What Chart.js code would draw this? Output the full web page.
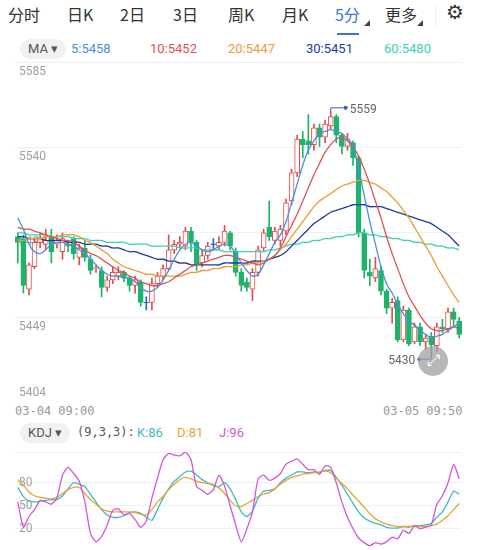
<!DOCTYPE html>
<html><head><meta charset="utf-8">
<script src="https://cdn.jsdelivr.net/npm/chart.js@4"></script>
<style>
body{margin:0;width:478px;height:550px;background:#fff;font-family:"Noto Sans CJK SC","Noto Sans",sans-serif;position:relative;overflow:hidden}
.a{position:absolute;white-space:nowrap}
.tab{top:2px;font-size:16px;color:#333}
.pill{background:#f1f1f1;border-radius:10px;color:#555;font-size:13px;font-family:Roboto,sans-serif;height:20px;line-height:20px;padding:0 8px}
.lg{font-size:13px;font-family:Roboto,sans-serif}
.tri{width:0;height:0;border-left:6px solid transparent;border-bottom:6px solid #444}
</style></head><body>
<div class="a tab" style="left:8px">分时</div>
<div class="a tab" style="left:67px">日K</div>
<div class="a tab" style="left:120px">2日</div>
<div class="a tab" style="left:173px">3日</div>
<div class="a tab" style="left:228px">周K</div>
<div class="a tab" style="left:282px">月K</div>
<div class="a tab" style="left:335px;color:#3a72d8">5分</div>
<div class="a tri" style="left:364px;top:20px"></div>
<div class="a tab" style="left:385px">更多</div>
<div class="a tri" style="left:417px;top:20px"></div>
<div class="a" style="left:435px;top:6px;width:1px;height:20px;background:#eee"></div>
<div class="a" style="left:446px;top:0px;font-size:20px;color:#333;font-family:'DejaVu Sans'">⚙</div>
<div class="a" style="left:337px;top:33px;width:22px;height:2px;background:#3a72d8"></div>
<div class="a pill" style="left:20px;top:39px">MA ▾</div>
<div class="a lg" style="left:71px;top:41px;color:#4a8fe0">5:5458</div>
<div class="a lg" style="left:150px;top:41px;color:#e05252">10:5452</div>
<div class="a lg" style="left:228px;top:41px;color:#ec9c34">20:5447</div>
<div class="a lg" style="left:306px;top:41px;color:#1b3b9e">30:5451</div>
<div class="a lg" style="left:384px;top:41px;color:#3cd2b4">60:5480</div>
<div class="a" style="left:15px;top:404px;font-size:12px;color:#999;font-family:'DejaVu Sans Mono',monospace">03-04 09:00</div>
<div class="a" style="left:383px;top:404px;font-size:12px;color:#999;font-family:'DejaVu Sans Mono',monospace">03-05 09:50</div>
<div class="a pill" style="left:20px;top:423px">KDJ ▾</div>
<div class="a lg" style="left:77px;top:425px;color:#555;font-family:'DejaVu Sans Mono',monospace;font-size:12px">(9,3,3):</div>
<div class="a lg" style="left:137px;top:425px;color:#3fb9c9">K:86</div>
<div class="a lg" style="left:177px;top:425px;color:#e9a430">D:81</div>
<div class="a lg" style="left:219px;top:425px;color:#d257d8">J:96</div>
<div class="a" style="left:15px;top:62px;width:447px;height:340px"><canvas id="p"></canvas></div>
<div class="a" style="left:15px;top:452px;width:447px;height:96px"><canvas id="k"></canvas></div>
<div class="a" style="left:418px;top:346px;width:30px;height:30px;border-radius:15px;background:rgba(160,160,160,0.75);color:#fff;font-size:16px;text-align:center;line-height:30px;font-family:'DejaVu Sans'">⤢</div>
<script>
const opens=[5492,5491,5464,5476,5489,5488,5492,5488,5484,5488,5491,5481,5486,5480,5475,5474,5465,5469,5471,5473,5470,5466,5468,5457,5457,5467,5471,5475,5485,5488,5487,5495,5489,5478,5482,5488,5487,5489,5494,5484,5473,5468,5464,5473,5486,5497,5490,5490,5495,5511,5526,5544,5543,5541,5550,5545,5551,5556,5546,5540,5542,5534,5494,5473,5470,5474,5463,5454,5458,5437,5453,5436,5444,5436,5439,5434,5444,5443,5452,5447];
const closes=[5489,5466,5477,5489,5491,5490,5484,5490,5491,5487,5483,5486,5481,5474,5475.5,5465,5469,5473,5473,5470,5466,5469,5457,5457,5467,5471,5475,5485,5488,5489,5495,5489,5477,5482,5487,5488,5489,5495,5487,5473,5466,5465,5473,5485,5494,5492,5495,5496,5510,5526,5544,5541,5541,5550,5545,5552,5556,5546,5540,5544,5534,5494,5474,5471,5475,5463,5454,5457,5437,5453,5435,5444,5436,5438,5434.5,5444,5443,5452,5448,5440];
const highs=[5494,5493,5478,5491,5494,5496,5496,5493,5494,5490,5492,5488,5490,5482,5477,5476,5471,5476,5476,5474,5471,5471,5469,5460,5470,5473,5477,5493,5490,5492,5497,5497,5490,5485,5489,5491,5492,5498,5495,5486,5475,5470,5475,5487,5496,5511,5497,5498,5512,5528,5546,5548,5557,5552,5552,5554,5559,5557,5547,5547,5543,5535,5496,5480,5481,5476,5464,5459,5460,5455,5454,5446,5446,5440,5441,5446,5448,5454,5454,5449];
const lows=[5478,5462,5461,5475,5486,5485,5478,5486,5480,5484,5480,5477,5479,5472,5473,5460,5463,5467,5469,5468,5463,5462,5455,5453,5453,5465,5469,5474,5483,5486,5485,5484,5474,5476,5480,5485,5485,5487,5485,5471,5463,5463,5458,5471,5484,5490,5488,5487,5493,5509,5524,5534,5536,5538,5540,5542,5549,5542,5536,5538,5530,5492,5470,5466,5468,5461,5451,5446,5436,5436,5434,5435,5434,5432,5430,5431,5441,5441,5444,5438];
const ma5=[5502,5496,5488,5484,5483,5485,5488,5489,5489,5488,5487,5485,5483,5480,5477,5474,5472,5471,5471,5470,5470,5468,5465,5463,5463,5465,5469,5474,5480,5485,5488,5489,5487,5485,5484,5485,5487,5488,5487,5483,5478,5474,5471,5472,5477,5483,5489,5493,5500,5510,5520,5530,5538,5543,5547,5548,5549,5548,5547,5544,5541,5528,5514,5500,5488,5476,5467,5462,5456,5451,5447,5445,5442,5440,5438,5439,5440,5442,5444,5446];
const ma10=[5497,5496,5496,5495,5494,5493,5492,5491,5490,5490,5489,5487,5485,5483,5482,5480,5478,5476,5474,5473,5471,5470,5468,5467,5466,5466,5467,5468,5470,5472,5474,5476,5477,5478,5479,5480,5481,5482,5482,5481,5480,5479,5478,5477,5478,5480,5482,5486,5492,5498,5504,5511,5518,5525,5531,5537,5541,5544,5545,5543,5540,5535,5528,5520,5511,5502,5492,5483,5475,5467,5460,5455,5450,5446,5443,5442,5442,5443,5444,5443];
const ma20=[5490,5490,5491,5491,5491,5492,5492,5492,5493,5493,5493,5492,5490,5489,5487,5485,5483,5480,5478,5476,5475,5474,5473,5472,5472,5471,5471,5471,5471,5471,5472,5473,5473,5474,5474,5475,5475,5476,5476,5476,5477,5477,5478,5478,5479,5480,5482,5485,5488,5492,5496,5500,5504,5508,5511,5513,5515,5517,5519,5520,5521,5522,5522,5521,5520,5518,5516,5513,5510,5506,5502,5497,5492,5487,5482,5476,5471,5466,5461,5457];
const ma30=[5492,5492,5491,5491,5491,5490,5490,5490,5490,5489,5489,5489,5488,5488,5488,5487,5487,5486,5486,5485,5484,5484,5483,5482,5481,5480,5480,5479,5479,5478,5478,5477,5477,5477,5477,5477,5477,5478,5478,5478,5478,5478,5479,5479,5479,5480,5481,5482,5484,5487,5490,5493,5496,5499,5501,5503,5505,5506,5507,5508,5509,5509,5509,5508,5508,5508,5507,5506,5505,5504,5503,5502,5501,5500,5499,5497,5495,5493,5490,5487];
const ma60=[5494,5494,5493,5493,5493,5493,5492,5492,5492,5492,5491,5491,5491,5490,5490,5490,5489,5489,5489,5489,5488,5488,5488,5488,5487,5487,5487,5487,5487,5486,5486,5486,5486,5485,5485,5485,5485,5484,5484,5484,5484,5484,5484,5484,5484,5485,5485,5486,5487,5488,5488,5489,5489,5490,5490,5491,5491,5492,5492,5493,5493,5494,5494,5493,5493,5492,5492,5491,5491,5490,5490,5489,5489,5488,5488,5487,5487,5486,5486,5485];
const kVals=[74,62,56,55,56,57,58,58,63,72,80,78,75,65,55,45,38,35,35,37,41,42,40,35,31,45,60,72,82,88,94,95,90,84,80,76,75,80,72,58,42,36,43,60,69,70,72,80,86,90,94,94,93,94,93,96,96,87,77,65,53,42,34,30,27,25,22,21,21,23,22,24,24,25,27,35,42,55,69,65];
const dVals=[84,77,68,63,61,60,59,61,66,71,74,74,66,58,52,46,43,42,42,42,42,41,39,38,45,55,62,71,78,84,87,85,82,80,79,78,73,66,57,50,49,53,57,62,65,67,72,78,83,87,89,91,92,93,94,95,93,86,79,72,64,56,48,40,33,29,26,24,23,23,23,23,23,23,24,26,31,37,45,53];
const jVals=[55,22,36,45,57,55,52,60,90,100,92,82,55,14,3,10,25,44,46,38,40,32,22,30,60,86,110,118,116,115,120,110,75,70,65,71,90,76,50,25,3,20,42,85,90,83,86,92,104,108,111,104,97,97,91,102,100,80,55,35,20,8,2,-2,2,0,3,9,7,18,14,24,20,22,25,52,63,80,104,85];
const priceTicks=[5585,5539.75,5494.5,5449.25,5404];
const priceTickLabels=["5585","5540","5494","5449","5404"];
const kdjTicks=[80,50,20];
const labels=opens.map((_,i)=>i);

const RED='#e44b4b',GREEN='#1db36b',BLUE='#2a62d0';
const col=i=>closes[i]>opens[i]?RED:(closes[i]<opens[i]?GREEN:BLUE);
const bodies=opens.map((o,i)=>o===closes[i]?[o-0.25,o+0.25]:[o,closes[i]]);
const wicks=lows.map((l,i)=>[l,highs[i]]);
const line=(d,c)=>({type:'line',data:d,borderColor:c,borderWidth:1.3,pointRadius:0,tension:0.3,order:0});

const labelPlugin={id:'lbl',beforeDatasetsDraw(ch){
  const c=ch.ctx,y=ch.scales.y;c.save();c.fillStyle='#a0a0a0';c.font='12px Roboto';
  priceTicks.forEach((t,i)=>{const py=y.getPixelForValue(t);const last=i===priceTicks.length-1;c.textBaseline=last?'bottom':'top';c.fillText(priceTickLabels[i],4,last?py-3:py+4);});
  c.restore();}};
const extPlugin={id:'ext',afterDatasetsDraw(ch){
  const c=ch.ctx,x=ch.scales.x,y=ch.scales.y;
  let hi=0,lo=0;highs.forEach((h,i)=>{if(h>highs[hi])hi=i;});lows.forEach((l,i)=>{if(l<lows[lo])lo=i;});
  c.save();c.strokeStyle='#2a62d0';c.fillStyle='#2a62d0';c.lineWidth=1;
  let hx=x.getPixelForValue(hi),hy=y.getPixelForValue(highs[hi]);
  c.beginPath();c.moveTo(hx,hy);c.lineTo(hx,hy-3);c.lineTo(hx+15,hy-3);c.stroke();
  c.beginPath();c.arc(hx+15,hy-3,2,0,7);c.fill();
  c.fillStyle='#666';c.font='12px Roboto';c.textBaseline='middle';c.fillText(String(highs[hi]),hx+19,hy-1);
  let lx=x.getPixelForValue(lo),ly=y.getPixelForValue(lows[lo]);
  c.fillStyle='#2a62d0';
  c.beginPath();c.moveTo(lx,ly);c.lineTo(lx,ly+6);c.lineTo(lx-12,ly+6);c.stroke();
  c.beginPath();c.arc(lx-12,ly+6,2,0,7);c.fill();
  c.fillStyle='#666';c.textAlign='right';c.fillText(String(lows[lo]),lx-16,ly+8);
  c.restore();}};

new Chart(document.getElementById('p'),{
  data:{labels,datasets:[
    line(ma5,'#4a8fe0'),line(ma10,'#e05252'),line(ma20,'#ec9c34'),line(ma30,'#1b3b9e'),line(ma60,'#3cd2b4'),
    {type:'bar',data:bodies,backgroundColor:opens.map((o,i)=>closes[i]>o?'#fff':col(i)),borderColor:opens.map((o,i)=>col(i)),borderWidth:1,borderSkipped:false,barThickness:5,grouped:false,order:1},
    {type:'bar',data:wicks,backgroundColor:opens.map((o,i)=>col(i)),barThickness:1,grouped:false,order:2}
  ]},
  options:{responsive:true,maintainAspectRatio:false,animation:false,events:[],layout:{padding:0},
    plugins:{legend:{display:false},tooltip:{enabled:false}},
    scales:{x:{display:false,offset:true},
      y:{min:5404,max:5585,afterFit:s=>{s.width=0},afterBuildTicks:s=>{s.ticks=priceTicks.map(v=>({value:v}))},
        ticks:{display:false},border:{display:false},grid:{color:'#efefef',drawTicks:false}}}},
  plugins:[labelPlugin,extPlugin]});

const kdjLabel={id:'kl',beforeDatasetsDraw(ch){const c=ch.ctx,y=ch.scales.y;c.save();c.fillStyle='#a0a0a0';c.font='12px Roboto';c.textBaseline='middle';
  kdjTicks.forEach(t=>c.fillText(String(t),4,y.getPixelForValue(t)));c.restore();}};
const kl=(d,c)=>({data:d,borderColor:c,borderWidth:1.3,pointRadius:0,tension:0.2});
new Chart(document.getElementById('k'),{type:'line',
  data:{labels,datasets:[kl(jVals,'#d257d8'),kl(dVals,'#e9a430'),kl(kVals,'#3fb9c9')]},
  options:{responsive:true,maintainAspectRatio:false,animation:false,events:[],layout:{padding:0},
    plugins:{legend:{display:false},tooltip:{enabled:false}},
    scales:{x:{display:false,offset:true},
      y:{min:-5,max:120,afterFit:s=>{s.width=0},afterBuildTicks:s=>{s.ticks=[-5,20,50,80,120].map(v=>({value:v}))},
        ticks:{display:false},border:{display:false},grid:{color:'#efefef',drawTicks:false}}}},
  plugins:[kdjLabel]});
</script></body></html>
